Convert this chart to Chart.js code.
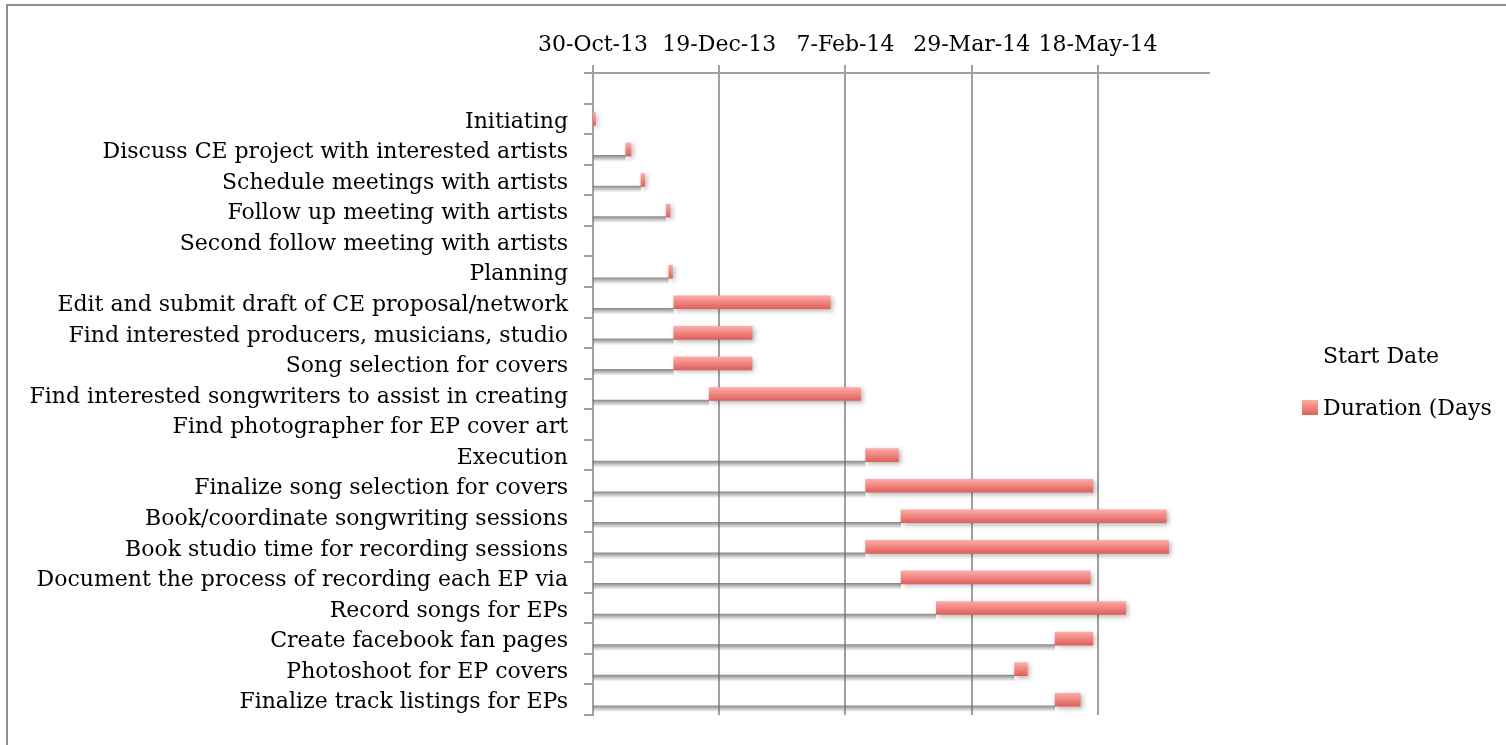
<!DOCTYPE html>
<html>
<head>
<meta charset="utf-8">
<title>Projektplan</title>
<script src="https://cdn.jsdelivr.net/npm/chart.js@4.4.1/dist/chart.umd.min.js"></script>
<style>
  html, body { margin: 0; padding: 0; background: #fff; overflow: hidden; }
  #rahmen { position: absolute; left: 6px; top: 4px; width: 1700px; height: 900px; border: 2px solid #8f8f8f; box-sizing: border-box; }
  #wrap { position: absolute; left: 0; top: 0; width: 1506px; height: 745px; }
  #legende { position: absolute; left: 1302px; top: 329px; width: 190px; overflow: hidden; font: 22px "DejaVu Serif", serif; color: #000; white-space: nowrap; }
  .eintrag { height: 52px; display: flex; align-items: center; }
  .kaestchen { display: inline-block; width: 16px; height: 15px; margin-right: 5px; flex: none; }
  .rot { background: linear-gradient(#fcaaa6, #e0605a); }
</style>
</head>
<body>
<div id="rahmen"></div>
<div id="wrap"><canvas id="ganttChart"></canvas></div>
<div id="legende"></div>
<script>
// Aufgaben (erste Zeile ist leer wie im Original)
const aufgaben = [
  "",
  "Initiating",
  "Discuss CE project with interested artists",
  "Schedule meetings with artists",
  "Follow up meeting with artists",
  "Second follow meeting with artists",
  "Planning",
  "Edit and submit draft of CE proposal/network",
  "Find interested producers, musicians, studio",
  "Song selection for covers",
  "Find interested songwriters to assist in creating",
  "Find photographer for EP cover art",
  "Execution",
  "Finalize song selection for covers",
  "Book/coordinate songwriting sessions",
  "Book studio time for recording sessions",
  "Document the process of recording each EP via",
  "Record songs for EPs",
  "Create facebook fan pages",
  "Photoshoot for EP covers",
  "Finalize track listings for EPs"
];

const startDaten = [
  null, "2013-10-30", "2013-11-12", "2013-11-18", "2013-11-28", null,
  "2013-11-29", "2013-12-01", "2013-12-01", "2013-12-01", "2013-12-15", null,
  "2014-02-15", "2014-02-15", "2014-03-01", "2014-02-15", "2014-03-01",
  "2014-03-15", "2014-05-01", "2014-04-15", "2014-05-01"
];

const dauerTage = [
  null, 1, 2, 1.5, 1.5, null,
  1.5, 62, 31, 31, 60, null,
  13, 90, 105, 120, 75,
  75, 15, 5, 10
];

const serienNamen = ["Start Date", "Duration (Days)"];

// Achse in Excel-Seriennummern
const achseMin = 41577;   // 30-Oct-13
const achseMax = 41821;
const achseSchritt = 50;

const monate = ["Jan","Feb","Mar","Apr","May","Jun","Jul","Aug","Sep","Oct","Nov","Dec"];
const excelNull = Date.UTC(1899, 11, 30);

function zuSerial(iso) {
  if (!iso) return null;
  return Math.round((Date.parse(iso) - excelNull) / 86400000);
}

function datumText(serial) {
  const d = new Date(excelNull + serial * 86400000);
  return `${d.getUTCDate()}-${monate[d.getUTCMonth()]}-${String(d.getUTCFullYear()).slice(2)}`;
}

const startSerial = startDaten.map(zuSerial);

Chart.defaults.font.family = "'DejaVu Serif', serif";
Chart.defaults.font.size = 22;
Chart.defaults.color = "#000";

const grau = "#a0a0a0";

// Schatten unter den roten Balken
const schattenPlugin = {
  id: "schatten",
  beforeDatasetDraw(chart, args) {
    if (args.index !== 1) return;
    const c = chart.ctx;
    c.save();
    c.shadowColor = "rgba(0,0,0,0.3)";
    c.shadowBlur = 5;
    c.shadowOffsetX = 2;
    c.shadowOffsetY = 2;
  },
  afterDatasetDraw(chart, args) {
    if (args.index === 1) chart.ctx.restore();
  }
};

function zeilenMitte(ctx) {
  const y = ctx.chart.scales.y;
  if (!y || ctx.type !== "data") return NaN;
  return y.getPixelForValue(ctx.dataIndex);
}

function rotVerlauf(ctx) {
  const mitte = zeilenMitte(ctx);
  if (!isFinite(mitte)) return "#f08a85";
  const g = ctx.chart.ctx.createLinearGradient(0, mitte - 6.5, 0, mitte + 6.5);
  g.addColorStop(0, "#fdaba7");
  g.addColorStop(1, "#e0605a");
  return g;
}

function grauVerlauf(ctx) {
  const mitte = zeilenMitte(ctx);
  if (!isFinite(mitte)) return "rgba(120,120,120,0.4)";
  const g = ctx.chart.ctx.createLinearGradient(0, mitte + 6, 0, mitte + 12);
  g.addColorStop(0, "rgba(100,100,100,0.75)");
  g.addColorStop(1, "rgba(110,110,110,0.05)");
  return g;
}

const chart = new Chart(document.getElementById("ganttChart"), {
  type: "bar",
  data: {
    labels: aufgaben,
    datasets: [{
      label: serienNamen[0],
      data: startSerial,
      backgroundColor: "rgba(255,255,255,0)",
      borderColor: grauVerlauf,
      borderWidth: { top: 0, left: 0, right: 0, bottom: 6 },
      borderSkipped: false,
      barThickness: 24
    }, {
      label: serienNamen[1],
      data: dauerTage,
      backgroundColor: rotVerlauf,
      borderWidth: 0,
      barThickness: 13
    }]
  },
  options: {
    indexAxis: "y",
    responsive: true,
    maintainAspectRatio: false,
    animation: false,
    layout: { padding: { top: 0, left: 0, right: 297, bottom: 30 } },
    plugins: {
      legend: { display: false },
      tooltip: { enabled: false }
    },
    scales: {
      x: {
        type: "linear",
        position: "top",
        stacked: true,
        min: achseMin,
        max: achseMax,
        afterBuildTicks(scale) {
          const t = [];
          for (let v = achseMin; v <= achseMax; v += achseSchritt) t.push({ value: v });
          scale.ticks = t;
        },
        afterFit(scale) { scale.height = 73; },
        ticks: {
          autoSkip: false,
          maxRotation: 0,
          padding: 7,
          callback: v => datumText(v)
        },
        grid: { color: grau, lineWidth: 2, tickLength: 8 },
        border: { color: grau, width: 2 }
      },
      y: {
        type: "category",
        stacked: true,
        offset: true,
        afterFit(scale) { scale.width = 593; },
        ticks: { autoSkip: false, padding: 16, labelOffset: 3 },
        grid: { offset: true, drawOnChartArea: false, color: grau, lineWidth: 2, tickLength: 9 },
        border: { color: grau, width: 2 }
      }
    }
  },
  plugins: [schattenPlugin]
});

// Legende als HTML aus den Datensätzen
const legende = document.getElementById("legende");
chart.data.datasets.forEach((ds, i) => {
  const zeile = document.createElement("div");
  zeile.className = "eintrag";
  const box = document.createElement("span");
  box.className = "kaestchen" + (i === 1 ? " rot" : "");
  const text = document.createElement("span");
  text.textContent = ds.label;
  zeile.appendChild(box);
  zeile.appendChild(text);
  legende.appendChild(zeile);
});
</script>
</body>
</html>
